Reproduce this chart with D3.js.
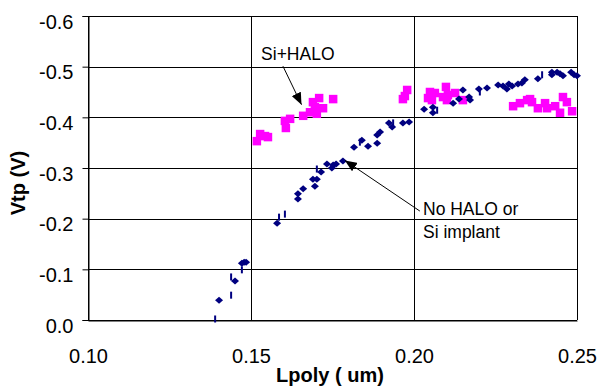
<!DOCTYPE html>
<html><head><meta charset="utf-8">
<script src="https://cdn.jsdelivr.net/npm/d3@7"></script>
<style>body{margin:0;background:#fff}svg{display:block}text{font-family:"Liberation Sans",Arial,sans-serif}</style>
</head><body>
<svg id="c" width="600" height="388"></svg>
<script>
// ---- data ----
const xTicks = [0.10, 0.15, 0.20, 0.25];
const yTicks = [0, -0.1, -0.2, -0.3, -0.4, -0.5, -0.6];
// No HALO or Si implant (Lpoly um, Vtp V)
const noHaloL = [0.1402,0.1451,0.1472,0.1479,0.1485,0.1580,0.1644,0.1644,0.1660,0.1690,0.1696,0.1702,0.1715,0.1733,0.1748,0.1752,0.1761,0.1782,0.1816,0.1840,0.1859,0.1887,0.1887,0.1896,0.1923,0.1933,0.1966,0.1985,0.2031,0.2058,0.2058,0.2120,0.2138,0.2150,0.2169,0.2172,0.2199,0.2224,0.2258,0.2273,0.2285,0.2291,0.2301,0.2319,0.2331,0.2340,0.2380,0.2423,0.2423,0.2439,0.2448,0.2457,0.2482,0.2491,0.2500];
const noHaloV = [-0.039,-0.077,-0.112,-0.114,-0.114,-0.191,-0.239,-0.249,-0.259,-0.278,-0.264,-0.278,-0.292,-0.308,-0.300,-0.306,-0.308,-0.314,-0.341,-0.355,-0.343,-0.349,-0.365,-0.371,-0.389,-0.381,-0.389,-0.391,-0.416,-0.409,-0.420,-0.428,-0.436,-0.454,-0.440,-0.434,-0.456,-0.458,-0.464,-0.462,-0.456,-0.466,-0.462,-0.466,-0.468,-0.474,-0.476,-0.484,-0.489,-0.489,-0.486,-0.482,-0.489,-0.484,-0.482];
// same series, points drawn as thin dashes in the original
const noHaloDashL = [0.1390,0.1439,0.1439,0.1472,0.1586,0.1604,0.1702,0.1834,0.1936,0.2071,0.2202,0.2393];
const noHaloDashV = [-0.002,-0.049,-0.085,-0.099,-0.203,-0.209,-0.298,-0.351,-0.389,-0.414,-0.450,-0.484];
// Si+HALO
const haloL = [0.1518,0.1528,0.1543,0.1552,0.1607,0.1604,0.1620,0.1660,0.1681,0.1696,0.1702,0.1690,0.1709,0.1721,0.1752,0.1966,0.1972,0.1979,0.2049,0.2043,0.2055,0.2064,0.2098,0.2089,0.2101,0.2104,0.2126,0.2150,0.2304,0.2325,0.2356,0.2380,0.2408,0.2433,0.2457,0.2469,0.2448,0.2485,0.2402,0.2362,0.2347];
const haloV = [-0.353,-0.367,-0.363,-0.361,-0.379,-0.393,-0.397,-0.403,-0.410,-0.420,-0.407,-0.430,-0.438,-0.418,-0.436,-0.436,-0.442,-0.454,-0.450,-0.438,-0.434,-0.448,-0.460,-0.440,-0.434,-0.444,-0.448,-0.434,-0.422,-0.428,-0.436,-0.418,-0.418,-0.422,-0.440,-0.430,-0.409,-0.412,-0.428,-0.430,-0.434];

// ---- chart ----
const svg = d3.select("#c");
const x = d3.scaleLinear().domain([0.10, 0.25]).range([88, 577]);
const y = d3.scaleLinear().domain([0, -0.6]).range([320, 16]);
const fmtX = d => d.toFixed(2);
const fmtY = d => (d === 0 ? 0 : d).toFixed(1);

// gridlines
svg.append("g").selectAll("line").data(yTicks).join("line")
  .attr("x1", x(0.10)).attr("x2", x(0.25))
  .attr("y1", d => Math.round(y(d)) + 0.5).attr("y2", d => Math.round(y(d)) + 0.5)
  .attr("stroke", "#000").attr("stroke-width", 1);
svg.append("g").selectAll("line").data(xTicks).join("line")
  .attr("y1", y(0)).attr("y2", y(-0.6))
  .attr("x1", d => Math.round(x(d)) + 0.5).attr("x2", d => Math.round(x(d)) + 0.5)
  .attr("stroke", "#000").attr("stroke-width", 1);

// y axis
const ya = svg.append("g").attr("transform", `translate(${Math.round(x(0.10)) + 0.5},0)`)
  .call(d3.axisLeft(y).tickValues(yTicks).tickFormat(fmtY).tickSize(6).tickPadding(9));
ya.select(".domain").attr("stroke", "#000");
ya.selectAll("line").attr("stroke", "#000");
ya.selectAll("text").attr("font-size", 20).attr("fill", "#000").attr("dy", "0.6em")
  .style("font-family", '"Liberation Sans",Arial,sans-serif');

// x axis
const xa = svg.append("g").attr("transform", `translate(0,${Math.round(y(0)) + 0.5})`)
  .call(d3.axisBottom(x).tickValues(xTicks).tickFormat(fmtX).tickSize(0).tickPadding(28));
xa.select(".domain").attr("stroke", "#000");
xa.selectAll("text").attr("font-size", 20).attr("fill", "#000")
  .style("font-family", '"Liberation Sans",Arial,sans-serif');

// axis titles
svg.append("text").attr("transform", `translate(25,183) rotate(-90)`)
  .attr("text-anchor", "middle").attr("font-size", 20).attr("font-weight", "bold").text("Vtp (V)");
svg.append("text").attr("x", 330).attr("y", 382)
  .attr("text-anchor", "middle").attr("font-size", 20).attr("font-weight", "bold").text("Lpoly ( um)");

// Si+HALO squares
const sq = 8.5;
svg.append("g").selectAll("rect").data(d3.range(haloL.length)).join("rect")
  .attr("x", i => x(haloL[i]) - sq / 2).attr("y", i => y(haloV[i]) - sq / 2)
  .attr("width", sq).attr("height", sq).attr("fill", "#FF00FF");

// No HALO diamonds
const dpath = "M0,-3.5 L4,0 L0,3.5 L-4,0 Z";
svg.append("g").selectAll("path").data(d3.range(noHaloL.length)).join("path")
  .attr("d", dpath).attr("transform", i => `translate(${x(noHaloL[i])},${y(noHaloV[i])})`)
  .attr("fill", "#000080");
svg.append("g").selectAll("rect").data(d3.range(noHaloDashL.length)).join("rect")
  .attr("x", i => x(noHaloDashL[i]) - 1).attr("y", i => y(noHaloDashV[i]) - 3.5)
  .attr("width", 2).attr("height", 7).attr("fill", "#000080");

// annotations
const defs = svg.append("defs");
defs.append("marker").attr("id", "ah").attr("viewBox", "0 0 12 10")
  .attr("refX", 12).attr("refY", 5).attr("markerWidth", 12).attr("markerHeight", 10)
  .attr("markerUnits", "userSpaceOnUse").attr("orient", "auto")
  .append("path").attr("d", "M0,0 L12,5 L0,10 Z").attr("fill", "#000");

svg.append("text").attr("x", x(0.1531)).attr("y", y(-0.513)).attr("font-size", 17.5).text("Si+HALO");
svg.append("line").attr("x1", x(0.1598)).attr("y1", y(-0.501)).attr("x2", x(0.1655)).attr("y2", y(-0.425))
  .attr("stroke", "#000").attr("stroke-width", 1).attr("marker-end", "url(#ah)");

svg.append("text").attr("x", 423).attr("y", 215).attr("font-size", 17.5).text("No HALO or");
svg.append("text").attr("x", 423).attr("y", 238).attr("font-size", 17.5).text("Si implant");
svg.append("line").attr("x1", x(0.2018)).attr("y1", y(-0.215)).attr("x2", x(0.1788)).attr("y2", y(-0.315))
  .attr("stroke", "#000").attr("stroke-width", 1).attr("marker-end", "url(#ah)");
</script>
</body></html>
